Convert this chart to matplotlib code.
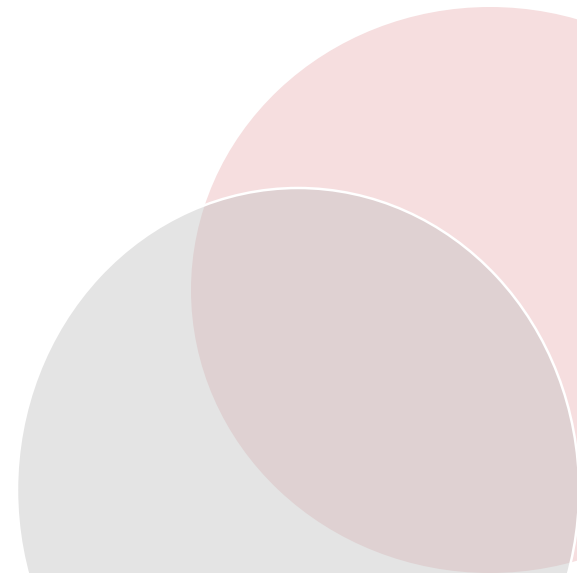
import matplotlib
matplotlib.use("Agg")
import matplotlib.pyplot as plt
from matplotlib.patches import Ellipse

# two sets, drawn as overlapping shapes (pixel-like units, y grows downward)
names = ["A", "B"]
centers_x = [490, 298]
centers_y = [290, 490]
half_widths = [299, 281]
half_heights = [283, 302]
colors = ["#f6dedf", "#c2c2c2"]
alphas = [1.0, 0.44]
edges = ["none", "white"]

fig = plt.figure(figsize=(5.77, 5.73), dpi=100)
ax = fig.add_axes([0, 0, 1, 1])
ax.set_xlim(0, 577)
ax.set_ylim(573, 0)
ax.axis("off")

for i in range(len(names)):
    e = Ellipse((centers_x[i], centers_y[i]), 2 * half_widths[i], 2 * half_heights[i],
                facecolor=colors[i], alpha=alphas[i], edgecolor="none")
    ax.add_patch(e)
    if edges[i] != "none":
        ax.add_patch(Ellipse((centers_x[i], centers_y[i]), 2 * half_widths[i], 2 * half_heights[i],
                             facecolor="none", edgecolor=edges[i], linewidth=1.8))

fig.savefig("out.png", dpi=100)
